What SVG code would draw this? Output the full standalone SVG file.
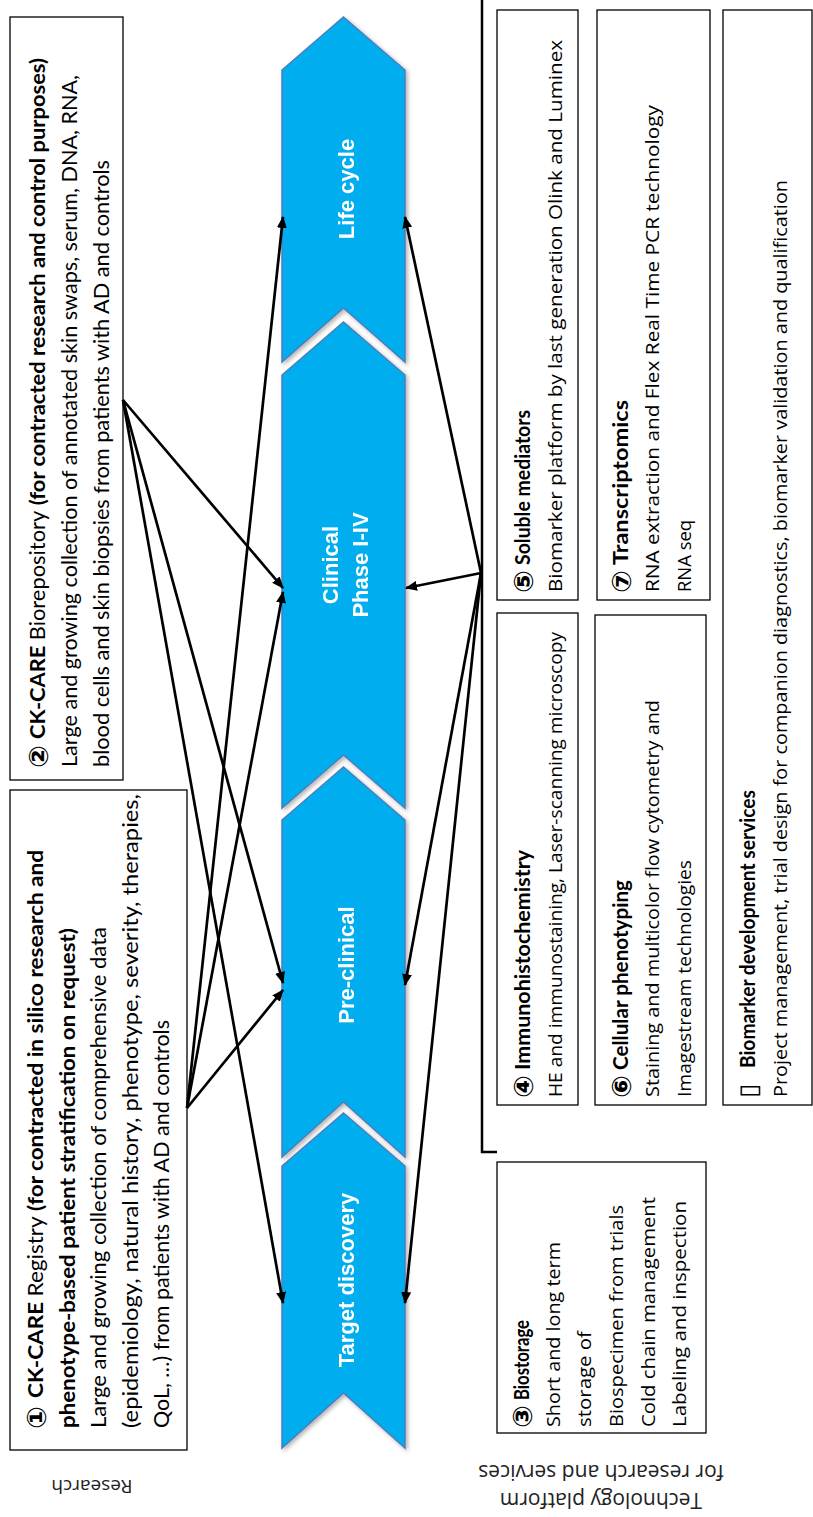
<svg xmlns="http://www.w3.org/2000/svg" width="813" height="1517" viewBox="0 0 813 1517">
<defs>
<style>
.box{fill:#fff;stroke:#000;stroke-width:1.3}
.chev{fill:#00AEEF;stroke:#4A7EBB;stroke-width:1.5}
.ct{fill:#fff;font-family:"Liberation Sans",Arial,sans-serif;font-weight:bold;font-size:22px;text-anchor:middle}
.n{font-family:"Lato","DejaVu Sans",sans-serif;font-size:21px;fill:#000}
.nb{font-family:"Lato","DejaVu Sans",sans-serif;font-size:21px;font-weight:bold;fill:#000}
.t{font-family:"Open Sans","DejaVu Sans",sans-serif;font-size:18.5px;fill:#000}
.tb{font-family:"Lato","DejaVu Sans",sans-serif;font-size:21px;font-weight:bold;fill:#000}
.dg{font-family:"DejaVu Sans",sans-serif;font-weight:bold;font-size:27px;fill:#000;dominant-baseline:central}
.tofu{font-family:"DejaVu Sans",sans-serif;font-size:26px;fill:#000;dominant-baseline:central}
.lab{font-family:"Open Sans","DejaVu Sans",sans-serif;font-size:21px;fill:#222;text-anchor:middle}
.lab2{font-family:"Open Sans","DejaVu Sans",sans-serif;font-size:19px;fill:#222;text-anchor:middle}
.arr{stroke:#000;stroke-width:2.7;fill:none;marker-end:url(#ah)}
</style>
<marker id="ah" markerUnits="userSpaceOnUse" markerWidth="12" markerHeight="10" refX="11" refY="5" orient="auto">
<path d="M0,0 L12,5 L0,10 Z" fill="#000"/>
</marker>
<filter id="sh" x="-10%" y="-5%" width="125%" height="115%">
<feDropShadow dx="2" dy="2" stdDeviation="2" flood-color="#000" flood-opacity="0.3"/>
</filter>
</defs>

<g id="chevrons" filter="url(#sh)">
<g id="life-cycle">
<path class="chev" d="M343.5,17 L405,70 L405,362 L343.5,308 L282,362 L282,70 Z"/>
<text class="ct" transform="rotate(-90 354 189)" x="354" y="189">Life cycle</text>
</g>
<g id="clinical">
<path class="chev" d="M343.5,322 L405,375 L405,808 L343.5,755 L282,808 L282,375 Z"/>
<text class="ct" transform="rotate(-90 338 565)" x="338" y="565">Clinical</text>
<text class="ct" transform="rotate(-90 368 565)" x="368" y="565">Phase I-IV</text>
</g>
<g id="pre-clinical">
<path class="chev" d="M343.5,767 L405,820 L405,1157 L343.5,1102 L282,1157 L282,820 Z"/>
<text class="ct" transform="rotate(-90 354 965)" x="354" y="965">Pre-clinical</text>
</g>
<g id="target-discovery">
<path class="chev" d="M343.5,1113 L405,1166 L405,1448 L343.5,1393 L282,1448 L282,1166 Z"/>
<text class="ct" transform="rotate(-90 354 1280)" x="354" y="1280">Target discovery</text>
</g>
</g>

<g id="box-registry">
<rect class="box" x="10" y="790" width="177" height="660"/>
<text class="dg" transform="rotate(-90 36 1429)" x="36" y="1429">①</text>
<text class="nb" transform="rotate(-90 43 1398)" x="43" y="1398" textLength="548" lengthAdjust="spacingAndGlyphs">CK-CARE <tspan font-weight="normal">Registry</tspan> (for contracted in silico research and</text>
<text class="nb" transform="rotate(-90 74.5 1428)" x="74.5" y="1428" textLength="500" lengthAdjust="spacingAndGlyphs">phenotype-based patient stratification on request)</text>
<text class="n" transform="rotate(-90 106 1428)" x="106" y="1428" textLength="501" lengthAdjust="spacingAndGlyphs">Large and growing collection of comprehensive data</text>
<text class="n" transform="rotate(-90 137.5 1428)" x="137.5" y="1428" textLength="634" lengthAdjust="spacingAndGlyphs">(epidemiology, natural history, phenotype, severity, therapies,</text>
<text class="n" transform="rotate(-90 169 1428)" x="169" y="1428" textLength="408" lengthAdjust="spacingAndGlyphs">QoL, …) from patients with AD and controls</text>
</g>

<g id="box-biorepository">
<rect class="box" x="10" y="17" width="113" height="763"/>
<text class="dg" transform="rotate(-90 38 768)" x="38" y="768">②</text>
<text class="nb" transform="rotate(-90 45 739)" x="45" y="739" textLength="681" lengthAdjust="spacingAndGlyphs">CK-CARE <tspan font-weight="normal">Biorepository</tspan> (for contracted research and control purposes)</text>
<text class="n" transform="rotate(-90 77 767)" x="77" y="767" textLength="692" lengthAdjust="spacingAndGlyphs">Large and growing collection of annotated skin swaps, serum, DNA, RNA,</text>
<text class="n" transform="rotate(-90 109 767)" x="109" y="767" textLength="607" lengthAdjust="spacingAndGlyphs">blood cells and skin biopsies from patients with AD and controls</text>
</g>

<g id="box-biostorage">
<rect class="box" x="497" y="1162" width="209" height="271"/>
<text class="dg" transform="rotate(-90 522 1428)" x="522" y="1428">③</text>
<text class="tb" transform="rotate(-90 529 1400)" x="529" y="1400" textLength="80" lengthAdjust="spacingAndGlyphs">Biostorage</text>
<text class="t" transform="rotate(-90 559.5 1427)" x="559.5" y="1427" textLength="185" lengthAdjust="spacingAndGlyphs">Short and long term</text>
<text class="t" transform="rotate(-90 591 1427)" x="591" y="1427" textLength="96" lengthAdjust="spacingAndGlyphs">storage of</text>
<text class="t" transform="rotate(-90 623 1427)" x="623" y="1427" textLength="222" lengthAdjust="spacingAndGlyphs">Biospecimen from trials</text>
<text class="t" transform="rotate(-90 654.5 1427)" x="654.5" y="1427" textLength="230" lengthAdjust="spacingAndGlyphs">Cold chain management</text>
<text class="t" transform="rotate(-90 686 1427)" x="686" y="1427" textLength="226" lengthAdjust="spacingAndGlyphs">Labeling and inspection</text>
</g>

<g id="box-immuno">
<rect class="box" x="497" y="613" width="81" height="492"/>
<text class="dg" transform="rotate(-90 523 1098)" x="523" y="1098">④</text>
<text class="tb" transform="rotate(-90 530 1070)" x="530" y="1070" textLength="220" lengthAdjust="spacingAndGlyphs">Immunohistochemistry</text>
<text class="t" transform="rotate(-90 561.5 1097)" x="561.5" y="1097" textLength="465" lengthAdjust="spacingAndGlyphs">HE and immunostaining, Laser-scanning microscopy</text>
</g>

<g id="box-cellular">
<rect class="box" x="595" y="615" width="111" height="490"/>
<text class="dg" transform="rotate(-90 621 1098)" x="621" y="1098">⑥</text>
<text class="tb" transform="rotate(-90 628 1070)" x="628" y="1070" textLength="190" lengthAdjust="spacingAndGlyphs">Cellular phenotyping</text>
<text class="t" transform="rotate(-90 658.5 1097)" x="658.5" y="1097" textLength="397" lengthAdjust="spacingAndGlyphs">Staining and multicolor flow cytometry  and</text>
<text class="t" transform="rotate(-90 690.5 1097)" x="690.5" y="1097" textLength="237" lengthAdjust="spacingAndGlyphs">Imagestream technologies</text>
</g>

<g id="box-soluble">
<rect class="box" x="497" y="10" width="81" height="590"/>
<text class="dg" transform="rotate(-90 523 593)" x="523" y="593">⑤</text>
<text class="tb" transform="rotate(-90 530 565)" x="530" y="565" textLength="155" lengthAdjust="spacingAndGlyphs">Soluble mediators</text>
<text class="t" transform="rotate(-90 561.5 592)" x="561.5" y="592" textLength="552" lengthAdjust="spacingAndGlyphs">Biomarker platform by last generation Olink and Luminex</text>
</g>

<g id="box-transcriptomics">
<rect class="box" x="597" y="10" width="113" height="590"/>
<text class="dg" transform="rotate(-90 621 593)" x="621" y="593">⑦</text>
<text class="tb" transform="rotate(-90 628 565)" x="628" y="565" textLength="165" lengthAdjust="spacingAndGlyphs">Transcriptomics</text>
<text class="t" transform="rotate(-90 658.5 592)" x="658.5" y="592" textLength="487" lengthAdjust="spacingAndGlyphs">RNA extraction and Flex Real Time PCR technology</text>
<text class="t" transform="rotate(-90 690.5 592)" x="690.5" y="592" textLength="72" lengthAdjust="spacingAndGlyphs">RNA seq</text>
</g>

<g id="box-biomarker-dev">
<rect class="box" x="723" y="10" width="89" height="1095"/>
<text class="tofu" transform="rotate(-90 748 1098)" x="748" y="1098">▯</text>
<text class="tb" transform="rotate(-90 755 1068)" x="755" y="1068" textLength="278" lengthAdjust="spacingAndGlyphs">Biomarker development services</text>
<text class="t" transform="rotate(-90 786.5 1097)" x="786.5" y="1097" textLength="917" lengthAdjust="spacingAndGlyphs">Project management, trial design for companion diagnostics, biomarker validation and qualification</text>
</g>

<g id="bracket">
<path d="M482,0 L482,1152 L497,1152" fill="none" stroke="#000" stroke-width="2.5"/>
</g>

<g id="labels">
<text class="lab2" transform="rotate(180 92 1487)" x="92" y="1494">Research</text>
<text class="lab" transform="rotate(180 601 1486)" x="601" y="1479">Technology platform</text>
<text class="lab" transform="rotate(180 601 1486)" x="601" y="1507">for research and services</text>
</g>

<g id="connectors">
<line class="arr" x1="187" y1="1108" x2="283" y2="217"/>
<line class="arr" x1="187" y1="1108" x2="283" y2="592"/>
<line class="arr" x1="187" y1="1108" x2="283" y2="990"/>
<line class="arr" x1="123" y1="400" x2="283" y2="588"/>
<line class="arr" x1="123" y1="400" x2="283" y2="983"/>
<line class="arr" x1="123" y1="400" x2="283" y2="1303"/>
<line class="arr" x1="481" y1="573" x2="405" y2="217"/>
<line class="arr" x1="481" y1="573" x2="406" y2="588"/>
<line class="arr" x1="481" y1="573" x2="405" y2="985"/>
<line class="arr" x1="481" y1="573" x2="405" y2="1303"/>
</g>
</svg>
